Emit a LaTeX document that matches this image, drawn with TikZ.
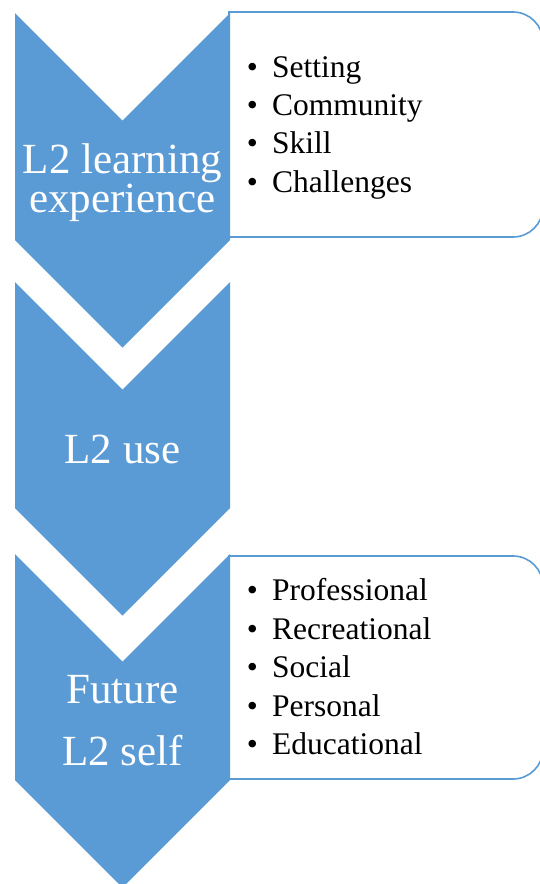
\documentclass[tikz,border=0pt]{standalone}
\usepackage{fontspec}
\setmainfont{Liberation Serif}
\definecolor{chevblue}{HTML}{5B9BD5}
\begin{document}
\begin{tikzpicture}[x=1pt,y=-1pt,
  chev/.style={fill=chevblue,draw=none},
  listbox/.style={draw=chevblue,line width=1.6pt,fill=white},
  chevtext/.style={text=white,font=\fontsize{43}{40}\selectfont,inner sep=0pt,anchor=base},
  bullettext/.style={text=black,font=\fontsize{31.5}{38}\selectfont,inner sep=0pt,anchor=base west},
  bulletdot/.style={text=black,font=\fontsize{31.5}{38}\selectfont,inner sep=0pt,anchor=base}]
\clip (0,0) rectangle (540,884);
\fill[white] (0,0) rectangle (540,884);
% boxes
\draw[listbox] (229,12) -- (513,12) arc[start angle=-90,end angle=0,radius=30] -- (543,207) arc[start angle=0,end angle=90,radius=30] -- (229,237) -- cycle;
\draw[listbox] (229,556) -- (513,556) arc[start angle=-90,end angle=0,radius=30] -- (543,749) arc[start angle=0,end angle=90,radius=30] -- (229,779) -- cycle;
% chevrons
\fill[chev] (15,13) -- (122.5,120.5) -- (230,13) -- (230,240) -- (122.5,347.5) -- (15,240) -- cycle;
\fill[chev] (15,282) -- (122.5,389.5) -- (230,282) -- (230,508) -- (122.5,615.5) -- (15,508) -- cycle;
\fill[chev] (15,554) -- (122.5,661.5) -- (230,554) -- (230,780) -- (122.5,887.5) -- (15,780) -- cycle;
% chevron texts
\node[chevtext] (c1a) at (122.5,173) {L2 learning};
\node[chevtext] (c1b) at (122.5,212) {experience};
\node[chevtext] (c2) at (122.5,463) {L2 use};
\node[chevtext] (c3a) at (122.5,703) {Future};
\node[chevtext] (c3b) at (122.5,765) {L2 self};
% list 1
\foreach \t/\y/\n in {Setting/77/a,Community/115/b,Skill/153/c,Challenges/192/d}{
  \node[bulletdot] (d1\n) at (252.5,\y) {•};
  \node[bullettext] (t1\n) at (272,\y) {\t};
}
% list 3
\foreach \t/\y/\n in {Professional/600/a,Recreational/639/b,Social/677/c,Personal/716/d,Educational/754/e}{
  \node[bulletdot] (d3\n) at (252.5,\y) {•};
  \node[bullettext] (t3\n) at (272,\y) {\t};
}
\end{tikzpicture}
\end{document}
